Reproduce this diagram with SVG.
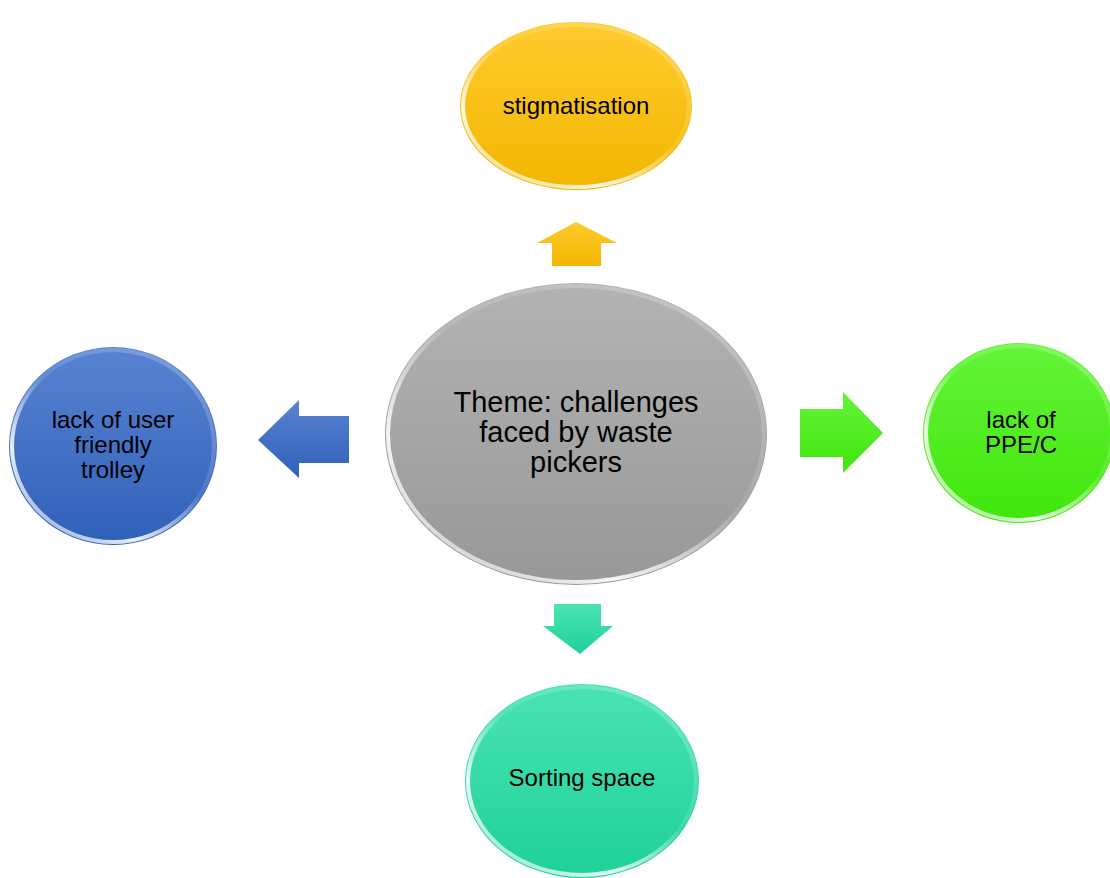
<svg xmlns="http://www.w3.org/2000/svg" width="1110" height="878" viewBox="0 0 1110 878">
<style>
  text { font-family: "Liberation Sans", Arial, sans-serif; fill: #000; text-anchor: middle; }
  .sm { font-size: 24px; }
  .lg { font-size: 29px; }
  .rim { fill: none; stroke: url(#rim); stroke-width: 4; }
</style>
<defs>
  <linearGradient id="gGray" x1="0" y1="0" x2="0" y2="1">
    <stop offset="0" stop-color="#b3b3b3"/><stop offset="1" stop-color="#989898"/>
  </linearGradient>
  <linearGradient id="gYel" x1="0" y1="0" x2="0" y2="1">
    <stop offset="0" stop-color="#ffcb2e"/><stop offset="1" stop-color="#f2b600"/>
  </linearGradient>
  <linearGradient id="gBlue" x1="0" y1="0" x2="0" y2="1">
    <stop offset="0" stop-color="#5983d2"/><stop offset="1" stop-color="#2f60b8"/>
  </linearGradient>
  <linearGradient id="gGreen" x1="0" y1="0" x2="0" y2="1">
    <stop offset="0" stop-color="#64f43a"/><stop offset="1" stop-color="#40e60a"/>
  </linearGradient>
  <linearGradient id="gTeal" x1="0" y1="0" x2="0" y2="1">
    <stop offset="0" stop-color="#4ae3b3"/><stop offset="1" stop-color="#1fd199"/>
  </linearGradient>
  <linearGradient id="rim" x1="0.9" y1="0" x2="0.1" y2="1">
    <stop offset="0" stop-color="#fff" stop-opacity="0.25"/>
    <stop offset="0.45" stop-color="#fff" stop-opacity="0.1"/>
    <stop offset="0.75" stop-color="#fff" stop-opacity="0.9"/>
    <stop offset="1" stop-color="#fff" stop-opacity="0.4"/>
  </linearGradient>
</defs>

<g id="connectors">
  <polygon id="arrow-up" points="576,222 617,243 601,243 601,266 552,266 552,243 537,243" fill="url(#gYel)"/>
  <polygon id="arrow-left" points="258,440 299,400 299,416 349,416 349,463 299,463 299,478" fill="url(#gBlue)"/>
  <polygon id="arrow-right" points="883,433 843,392 843,409 800,409 800,457 843,457 843,473" fill="url(#gGreen)"/>
  <polygon id="arrow-down" points="580,654 613,626 601,626 601,604 554,604 554,626 543,626" fill="url(#gTeal)"/>
</g>

<g id="node-center">
  <ellipse cx="576" cy="434" rx="191" ry="151" fill="url(#gGray)"/>
  <ellipse class="rim" cx="576" cy="434" rx="188" ry="148"/>
  <text class="lg" x="576" y="412">Theme: challenges</text>
  <text class="lg" x="576" y="442">faced by waste</text>
  <text class="lg" x="576" y="472">pickers</text>
</g>

<g id="node-top">
  <ellipse cx="576" cy="106" rx="116" ry="84" fill="url(#gYel)"/>
  <ellipse class="rim" cx="576" cy="106" rx="113" ry="81"/>
  <text class="sm" x="576" y="114">stigmatisation</text>
</g>

<g id="node-left">
  <ellipse cx="113" cy="446" rx="104" ry="99" fill="url(#gBlue)"/>
  <ellipse class="rim" cx="113" cy="446" rx="101" ry="96"/>
  <text class="sm" x="113" y="428">lack of user</text>
  <text class="sm" x="113" y="453">friendly</text>
  <text class="sm" x="113" y="478">trolley</text>
</g>

<g id="node-right">
  <ellipse cx="1019" cy="433" rx="96" ry="90" fill="url(#gGreen)"/>
  <ellipse class="rim" cx="1019" cy="433" rx="93" ry="87"/>
  <text class="sm" x="1021" y="428">lack of</text>
  <text class="sm" x="1021" y="453">PPE/C</text>
</g>

<g id="node-bottom">
  <ellipse cx="582" cy="781" rx="117" ry="97" fill="url(#gTeal)"/>
  <ellipse class="rim" cx="582" cy="781" rx="114" ry="94"/>
  <text class="sm" x="582" y="786">Sorting space</text>
</g>
</svg>
